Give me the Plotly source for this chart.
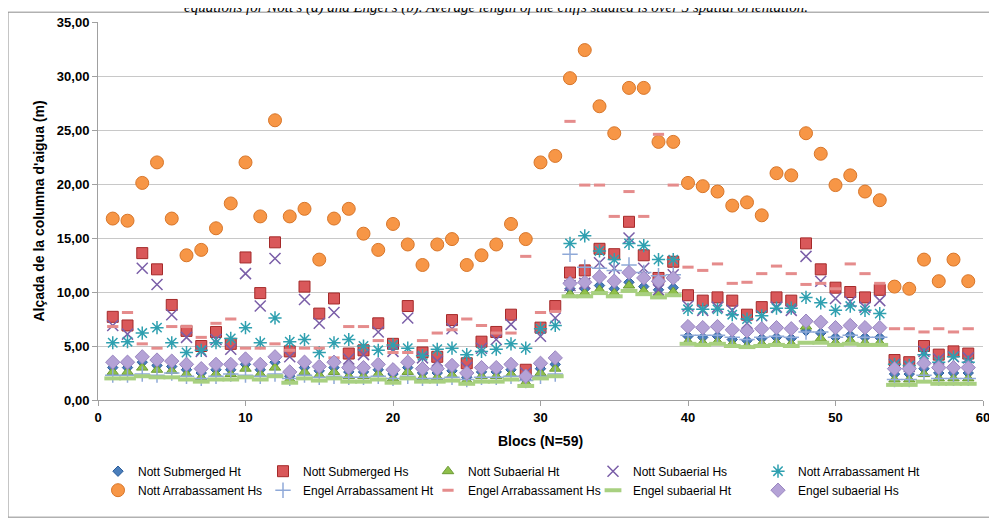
import plotly.graph_objects as go

blocs = list(range(1, 60))

nott_arr_hs = [16.8,16.6,20.1,22.0,16.8,13.4,13.9,15.9,18.2,22.0,17.0,25.9,17.0,17.7,13.0,16.8,17.7,15.4,13.9,16.3,14.4,12.5,14.4,14.9,12.5,13.4,14.4,16.3,14.9,22.0,22.6,29.8,32.4,27.2,24.7,28.9,28.9,23.9,23.9,20.1,19.8,19.3,18.0,18.3,17.1,21.0,20.8,24.7,22.8,19.9,20.8,19.3,18.5,10.5,10.3,13.0,11.0,13.0,11.0]
nott_sub_hs = [7.7,6.9,13.6,12.1,8.8,6.4,5.0,6.3,5.2,13.2,9.9,14.6,4.5,10.5,8.0,9.4,4.3,4.6,7.1,5.2,8.7,4.4,4.0,7.4,3.4,5.4,6.3,7.9,2.8,6.7,8.7,11.8,12.0,14.0,13.5,16.5,13.4,11.3,12.8,9.7,9.2,9.5,9.2,7.9,8.6,9.5,9.2,14.5,12.1,10.4,10.0,9.5,10.2,3.7,3.5,5.0,4.2,4.5,4.3]
nott_suba_hs = [6.9,6.1,12.2,10.7,7.9,5.8,4.5,5.6,4.7,11.7,8.7,13.1,4.0,9.3,7.1,8.1,3.8,4.2,6.3,4.5,7.6,3.9,3.6,6.6,3.0,4.8,5.6,7.0,2.5,5.9,7.6,10.6,10.8,12.7,12.2,15.0,12.2,10.2,11.6,8.7,8.3,8.6,8.3,7.1,7.8,8.6,8.3,13.3,11.0,9.4,9.1,8.6,9.2,3.3,3.1,4.5,3.8,4.0,3.9]
nott_arr_ht = [5.3,5.4,6.2,6.7,5.3,4.4,4.6,5.3,5.7,6.7,5.3,7.6,5.4,5.6,4.4,5.3,5.6,5.0,4.6,5.1,4.8,4.1,4.7,4.8,4.2,4.5,4.7,5.2,4.8,6.6,6.9,14.5,15.2,13.8,13.0,14.5,14.3,13.0,13.0,8.4,8.4,8.4,7.9,7.5,7.8,8.5,8.5,9.5,9.0,8.3,8.7,8.3,8.0,3.3,3.2,4.2,3.5,4.0,3.5]
engel_arr_hs = [6.8,8.1,5.2,4.8,6.8,6.8,5.8,7.1,7.5,4.8,4.8,5.2,4.6,4.8,4.8,3.9,6.8,6.8,5.5,4.4,4.4,5.5,6.2,6.5,7.5,6.9,6.2,6.2,13.3,8.1,8.2,25.8,19.9,19.9,17.0,19.3,17.0,24.6,19.9,12.3,12.0,12.6,10.8,10.9,11.7,12.4,11.7,10.7,10.8,10.3,12.6,11.7,10.8,6.6,6.6,6.3,6.6,6.3,6.6]
engel_suba_hs = [3.5,3.5,4.0,3.7,3.6,3.3,2.9,3.3,3.3,3.8,3.3,4.0,2.6,3.5,3.1,3.5,3.0,3.0,3.3,2.8,3.5,2.9,2.9,3.2,2.5,3.0,3.0,3.3,2.2,3.4,3.9,10.8,10.9,11.4,11.0,11.8,11.3,11.0,11.3,6.8,6.7,6.8,6.5,6.4,6.6,6.7,6.6,7.3,7.2,6.7,6.9,6.7,6.7,2.9,2.9,3.4,3.0,3.0,3.0]
nott_sub_ht = [3.0,3.0,3.5,3.2,3.1,2.8,2.5,2.8,2.8,3.3,2.8,3.5,2.2,3.0,2.7,3.0,2.6,2.6,2.8,2.4,3.0,2.5,2.5,2.7,2.1,2.6,2.6,2.8,1.9,2.9,3.3,10.3,10.3,10.6,10.3,10.9,10.5,10.2,10.4,5.9,5.8,5.9,5.6,5.5,5.7,5.8,5.7,6.4,6.2,5.8,6.0,5.8,5.8,2.4,2.4,2.9,2.5,2.5,2.5]
nott_suba_ht = [2.6,2.6,3.0,2.8,2.7,2.4,2.1,2.4,2.4,2.9,2.4,3.0,1.9,2.6,2.3,2.6,2.2,2.2,2.4,2.0,2.6,2.1,2.1,2.3,1.8,2.2,2.2,2.4,1.6,2.5,2.9,9.8,9.9,10.2,9.9,10.6,10.1,9.8,10.0,5.4,5.3,5.4,5.2,5.0,5.2,5.3,5.2,6.8,5.7,5.3,5.5,5.3,5.3,1.9,1.9,2.4,2.0,2.0,2.0]
engel_arr_ht = [2.3,2.3,2.4,2.3,2.5,2.2,2.0,2.2,2.4,2.3,2.2,2.4,2.0,2.3,2.1,2.2,2.1,2.1,2.2,2.0,2.2,2.0,2.0,2.1,1.9,2.1,2.1,2.2,1.8,2.2,2.4,13.5,12.3,12.2,12.0,12.5,11.8,11.5,11.6,6.0,6.0,6.0,5.8,5.6,5.8,5.9,5.8,6.3,6.3,5.8,6.0,5.8,5.8,1.9,1.9,2.3,2.0,2.0,2.0]
engel_suba_ht = [2.0,2.0,2.2,2.1,2.1,1.9,1.7,1.9,1.9,2.1,1.9,2.2,1.6,2.0,1.8,2.0,1.7,1.7,1.9,1.6,2.0,1.7,1.7,1.8,1.5,1.7,1.7,1.9,1.3,2.0,2.2,9.6,9.6,9.9,9.6,10.1,9.8,9.5,9.7,5.2,5.1,5.2,5.0,4.9,5.0,5.1,5.0,5.3,5.3,5.1,5.2,5.1,5.1,1.4,1.4,1.7,1.5,1.5,1.5]

series = [
    ("Nott Submerged Ht", nott_sub_ht, dict(symbol="diamond", size=8, color="#4a7ebb", line=dict(color="#2c5d9a", width=1))),
    ("Nott Submerged Hs", nott_sub_hs, dict(symbol="square", size=11, color="#d9585a", line=dict(color="#a52a2a", width=1))),
    ("Nott Subaerial Ht", nott_suba_ht, dict(symbol="triangle-up", size=10, color="#8fbf4a", line=dict(color="#6b9a33", width=1))),
    ("Nott Subaerial Hs", nott_suba_hs, dict(symbol="x-thin", size=11, color="#7a5ea8", line=dict(color="#7a5ea8", width=1.5))),
    ("Nott Arrabassament Ht", nott_arr_ht, dict(symbol="asterisk-open", size=11, color="#2fa0b0", line=dict(color="#2fa0b0", width=1.5))),
    ("Nott Arrabassament Hs", nott_arr_hs, dict(symbol="circle", size=13, color="#f79646", line=dict(color="#d8762a", width=1))),
    ("Engel Arrabassament Ht", engel_arr_ht, dict(symbol="cross-thin", size=11, color="#8fa9d8", line=dict(color="#8fa9d8", width=1.5))),
    ("Engel Arrabassament Hs", engel_arr_hs, dict(symbol="line-ew", size=8, color="#e58c8c", line=dict(color="#e58c8c", width=3))),
    ("Engel subaerial Ht", engel_suba_ht, dict(symbol="line-ew", size=12, color="#b4d88a", line=dict(color="#a8d080", width=4))),
    ("Engel subaerial Hs", engel_suba_hs, dict(symbol="diamond", size=11, color="#b4a2d6", line=dict(color="#9a86c0", width=1))),
]

fig = go.Figure()
for name, ys, mk in series:
    fig.add_trace(go.Scatter(x=blocs, y=ys, mode="markers", name=name, marker=mk))

fig.update_layout(
    width=989, height=512, margin=dict(l=90, r=14, t=14, b=120),
    plot_bgcolor="white", paper_bgcolor="white",
    font=dict(family="Liberation Sans, sans-serif", color="black", size=12),
    xaxis=dict(range=[0, 60], dtick=10, showgrid=False, linecolor="#a0a0a0", ticks="outside",
               tickcolor="#a0a0a0", ticklen=5, tickfont=dict(size=13), tickprefix="<b>", ticksuffix="</b>",
               automargin=False,
               title=dict(text="<b>Blocs (N=59)</b>", font=dict(size=14), standoff=12)),
    yaxis=dict(range=[0, 35], dtick=5, tickformat=".2f", automargin=False,
               gridcolor="#c8c8c8", linecolor="#a0a0a0", ticks="outside", tickcolor="#a0a0a0",
               ticklen=5, tickfont=dict(size=13), zeroline=False, tickprefix="<b>", ticksuffix="</b>",
               title=dict(text="<b>Alçada de la columna d'aigua (m)</b>", font=dict(size=14), standoff=8)),
    separators=",.",
    legend=dict(orientation="h", x=0.0, y=-0.15, xanchor="left", yanchor="top",
                entrywidth=120, entrywidthmode="pixels", itemwidth=30,
                font=dict(size=12), tracegroupgap=0, bgcolor="rgba(0,0,0,0)"),
    shapes=[dict(type="rect", xref="paper", yref="paper", x0=-0.234, x1=1.012, y0=-0.31, y1=1.026,
                 line=dict(color="#8c8c8c", width=1), layer="above")],
)
fig.layout.shapes[0].x0 = -90/885 + 0.0
fig.add_annotation(xref="paper", yref="paper", x=0.45, y=1.0, yanchor="bottom", yshift=4,
                   showarrow=False, font=dict(family="Liberation Serif", size=15),
                   text="<i>equations for Nott's (a) and Engel's (b). Average length of the cliffs studied is over 3 spatial orientation.</i>")
fig.write_html("out.html")
